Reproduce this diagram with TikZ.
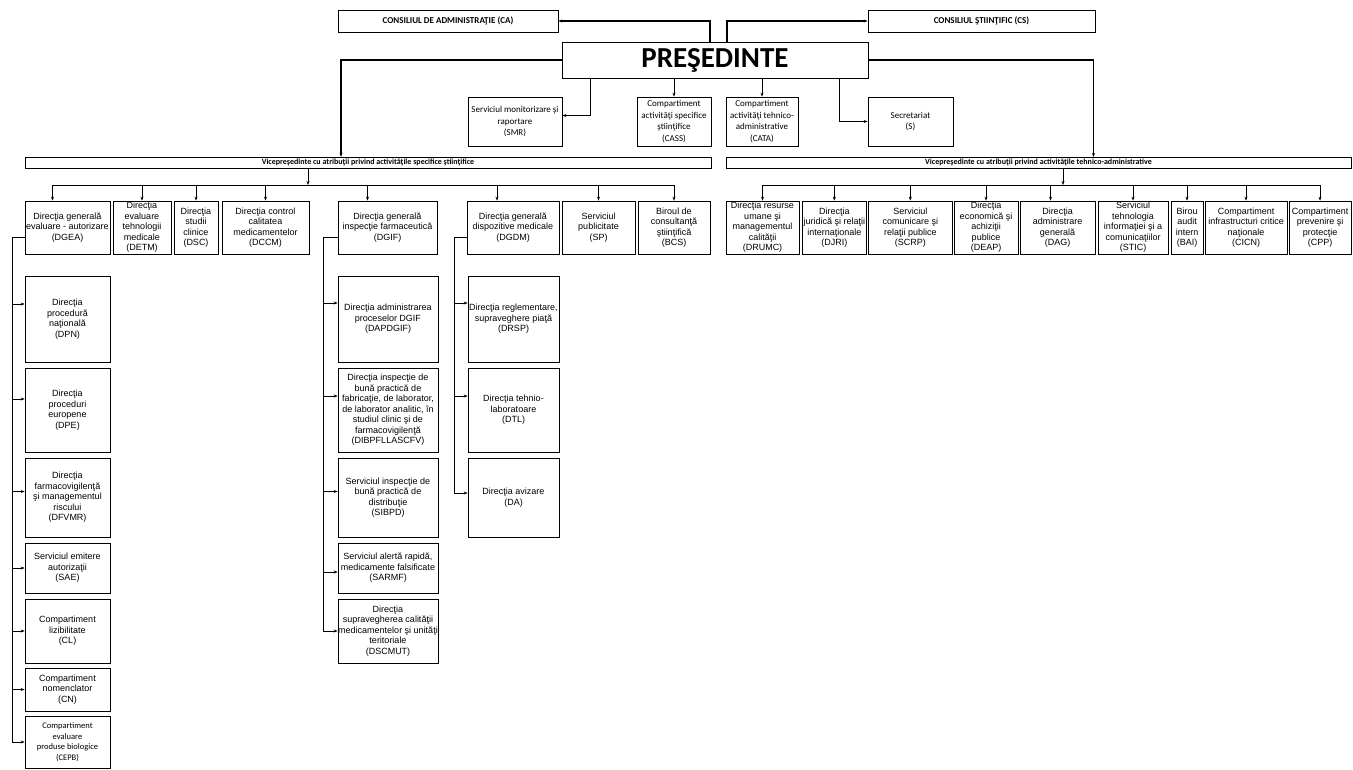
\documentclass[tikz,border=0pt]{standalone}
\usepackage{fontspec}
\setmainfont{Liberation Sans}
\newfontfamily\calibri{Carlito}
\usetikzlibrary{arrows.meta}

\begin{document}
\begin{tikzpicture}[x=1pt,y=-1pt,
    >={Stealth[length=4pt,width=3pt]},
    box/.style={draw,line width=0.7pt,inner sep=0pt,align=center,
      font=\fontsize{9}{10.5}\selectfont},
    topbox/.style={box,font=\calibri\fontsize{9}{11.5}\selectfont},
    vpbox/.style={box,minimum height=11,font=\calibri\bfseries\fontsize{8}{9}\selectfont},
    rowbox/.style={box,minimum height=53},
    colA/.style={box,minimum width=85},
    colB/.style={box,minimum width=100},
    colC/.style={box,minimum width=91},
    link/.style={line width=0.6pt},
    trunk/.style={line width=0.9pt},
    mainlink/.style={line width=1.1pt}]
  \useasboundingbox (0,0) rectangle (1353,769);

  % conducere
  \node[topbox,minimum width=220,minimum height=22] (CA) at (448,21)
    {\bfseries CONSILIUL DE ADMINISTRAŢIE (CA)};
  \node[topbox,minimum width=227,minimum height=22] (CS) at (981.5,21)
    {\bfseries CONSILIUL ŞTIINŢIFIC (CS)};
  \node[topbox,minimum width=306,minimum height=36,
    font=\calibri\bfseries\fontsize{29}{30}\selectfont] (P) at (715,60) {PREŞEDINTE};
  \node[topbox,minimum width=94,minimum height=49] (SMR) at (515,121.5)
    {Serviciul monitorizare şi\\raportare\\(SMR)};
  \node[topbox,minimum width=74,minimum height=49] (CASS) at (674,121.5)
    {Compartiment\\activităţi specifice\\ştiinţifice\\(CASS)};
  \node[topbox,minimum width=72,minimum height=49] (CATA) at (762,121.5)
    {Compartiment\\activităţi tehnico-\\administrative\\(CATA)};
  \node[topbox,minimum width=85,minimum height=49] (S) at (910.5,121.5)
    {Secretariat\\(S)};
  \node[vpbox,minimum width=686] (VPL) at (368,162.8)
    {Vicepreşedinte cu atribuţii privind activităţile specifice ştiinţifice};
  \node[vpbox,minimum width=625] (VPR) at (1038.5,162.8)
    {Vicepreşedinte cu atribuţii privind activităţile tehnico-administrative};

  % directii - activitati specifice stiintifice
  \node[rowbox,minimum width=85] (DGEA) at (67.5,227.5)
    {Direcţia generală\\evaluare - autorizare\\(DGEA)};
  \node[rowbox,minimum width=58] (DETM) at (142,227.5)
    {Direcţia\\evaluare\\tehnologii\\medicale\\(DETM)};
  \node[rowbox,minimum width=44] (DSC) at (196,227.5)
    {Direcţia\\studii\\clinice\\(DSC)};
  \node[rowbox,minimum width=87] (DCCM) at (265.5,227.5)
    {Direcţia control\\calitatea\\medicamentelor\\(DCCM)};
  \node[rowbox,minimum width=99] (DGIF) at (387.5,227.5)
    {Direcţia generală\\inspecţie farmaceutică\\(DGIF)};
  \node[rowbox,minimum width=92] (DGDM) at (513,227.5)
    {Direcţia generală\\dispozitive medicale\\(DGDM)};
  \node[rowbox,minimum width=73] (SP) at (598.5,227.5)
    {Serviciul\\publicitate\\(SP)};
  \node[rowbox,minimum width=72] (BCS) at (674,227.5)
    {Biroul de\\consultanţă\\ştiinţifică\\(BCS)};

  % directii - activitati tehnico-administrative
  \node[rowbox,minimum width=73] (DRUMC) at (762.5,227.5)
    {Direcţia resurse\\umane şi\\managementul\\calităţii\\(DRUMC)};
  \node[rowbox,minimum width=64.5] (DJRI) at (834.3,227.5)
    {Direcţia\\juridică şi relaţii\\internaţionale\\(DJRI)};
  \node[rowbox,minimum width=83.5] (SCRP) at (910.3,227.5)
    {Serviciul\\comunicare şi\\relaţii publice\\(SCRP)};
  \node[rowbox,minimum width=64] (DEAP) at (986,227.5)
    {Direcţia\\economică şi\\achiziţii\\publice\\(DEAP)};
  \node[rowbox,minimum width=75] (DAG) at (1057.5,227.5)
    {Direcţia\\administrare\\generală\\(DAG)};
  \node[rowbox,minimum width=70] (STIC) at (1133,227.5)
    {Serviciul\\tehnologia\\informaţiei şi a\\comunicaţiilor\\(STIC)};
  \node[rowbox,minimum width=32] (BAI) at (1187,227.5)
    {Birou\\audit\\intern\\(BAI)};
  \node[rowbox,minimum width=82] (CICN) at (1246,227.5)
    {Compartiment\\infrastructuri critice\\naţionale\\(CICN)};
  \node[rowbox,minimum width=62] (CPP) at (1320,227.5)
    {Compartiment\\prevenire şi\\protecţie\\(CPP)};

  % subordonate DGEA
  \node[colA,minimum height=86] (DPN) at (67.5,319)
    {Direcţia\\procedură\\naţională\\(DPN)};
  \node[colA,minimum height=84] (DPE) at (67.5,410)
    {Direcţia\\proceduri\\europene\\(DPE)};
  \node[colA,minimum height=79] (DFVMR) at (67.5,497.5)
    {Direcţia\\farmacovigilenţă\\şi managementul\\riscului\\(DFVMR)};
  \node[colA,minimum height=50] (SAE) at (67.5,568)
    {Serviciul emitere\\autorizaţii\\(SAE)};
  \node[colA,minimum height=64] (CL) at (67.5,631)
    {Compartiment\\lizibilitate\\(CL)};
  \node[colA,minimum height=43] (CN) at (67.5,689.5)
    {Compartiment\\nomenclator\\(CN)};
  \node[colA,minimum height=52,font=\calibri\fontsize{8.5}{10.5}\selectfont] (CEPB) at (67.5,742)
    {Compartiment\\evaluare\\produse biologice\\(CEPB)};

  % subordonate DGIF
  \node[colB,minimum height=86] (DAPDGIF) at (388,319)
    {Direcţia administrarea\\proceselor DGIF\\(DAPDGIF)};
  \node[colB,minimum height=84] (DIBPF) at (388,410)
    {Direcţia inspecţie de\\bună practică de\\fabricaţie, de laborator,\\de laborator analitic, în\\studiul clinic şi de\\farmacovigilenţă\\(DIBPFLLASCFV)};
  \node[colB,minimum height=79] (SIBPD) at (388,497.5)
    {Serviciul inspecţie de\\bună practică de\\distribuţie\\(SIBPD)};
  \node[colB,minimum height=50] (SARMF) at (388,568)
    {Serviciul alertă rapidă,\\medicamente falsificate\\(SARMF)};
  \node[colB,minimum height=64] (DSCMUT) at (388,631)
    {Direcţia\\supravegherea calităţii\\medicamentelor şi unităţi\\teritoriale\\(DSCMUT)};

  % subordonate DGDM
  \node[colC,minimum height=86] (DRSP) at (513.5,319)
    {Direcţia reglementare,\\supraveghere piaţă\\(DRSP)};
  \node[colC,minimum height=84] (DTL) at (513.5,410)
    {Direcţia tehnio-\\laboratoare\\(DTL)};
  \node[colC,minimum height=79] (DA) at (513.5,497.5)
    {Direcţia avizare\\(DA)};

  % legaturi presedinte
  \draw[mainlink,->] ([xshift=-5pt]P.north) |- (CA.east);
  \draw[mainlink,->] ([xshift=12pt]P.north) |- (CS.west);
  \draw[mainlink,->] (P.west) -| ([xshift=-27pt]VPL.north);
  \draw[mainlink,->] (P.east) -| ([xshift=55pt]VPR.north);
  \draw[link,->] ([xshift=-125pt]P.south) |- ([yshift=6pt]SMR.east);
  \draw[link,->] (CASS.north |- P.south) -- (CASS.north);
  \draw[link,->] (CATA.north |- P.south) -- (CATA.north);
  \draw[link,->] ([xshift=124pt]P.south) |- (S.west);

  % magistrala stanga
  \coordinate (busL) at (308,185);
  \coordinate (DGEAin) at ([xshift=-15pt]DGEA.north);
  \coordinate (DGIFin) at ([xshift=-20pt]DGIF.north);
  \coordinate (DGDMin) at ([xshift=-16pt]DGDM.north);
  \draw[link,->] (VPL.south -| busL) -- (busL);
  \draw[link] (busL -| DGEAin) -- (busL -| BCS.north);
  \foreach \n in {DGEAin,DETM.north,DSC.north,DCCM.north,DGIFin,DGDMin,SP.north,BCS.north}
    \draw[link,->] (busL -| \n) -- (\n);

  % magistrala dreapta
  \coordinate (busR) at (1063,185);
  \coordinate (DAGin) at ([xshift=-7pt]DAG.north);
  \draw[link,->] (VPR.south -| busR) -- (busR);
  \draw[link] (busR -| DRUMC.north) -- (busR -| CPP.north);
  \foreach \n in {DRUMC.north,DJRI.north,SCRP.north,DEAP.north,DAGin,STIC.north,BAI.north,CICN.north,CPP.north}
    \draw[link,->] (busR -| \n) -- (\n);

  % coloane
  \coordinate (trunkA) at (12,237);
  \coordinate (trunkB) at (323,237);
  \coordinate (trunkC) at (454,237);
  \draw[trunk,->] ([yshift=-9.5pt]DGEA.west) -- (trunkA) |- (CEPB.west);
  \draw[trunk,->] ([yshift=-9.5pt]DGIF.west) -- (trunkB) |- (DSCMUT.west);
  \draw[trunk,->] ([yshift=-9.5pt]DGDM.west) -- (trunkC) |- ([yshift=4.5pt]DA.west);
  \foreach \n/\s in {DPN/15,DPE/11,DFVMR/6,SAE/0,CL/0,CN/0}
    \draw[link,<-] ([yshift=\s pt]\n.west) -- ++(-13,0);
  \foreach \n/\s in {DAPDGIF/16,DIBPF/14,SIBPD/6,SARMF/-4}
    \draw[link,<-] ([yshift=\s pt]\n.west) -- ++(-15,0);
  \foreach \n/\s in {DRSP/16,DTL/14}
    \draw[link,<-] ([yshift=\s pt]\n.west) -- ++(-14,0);
\end{tikzpicture}
\end{document}
